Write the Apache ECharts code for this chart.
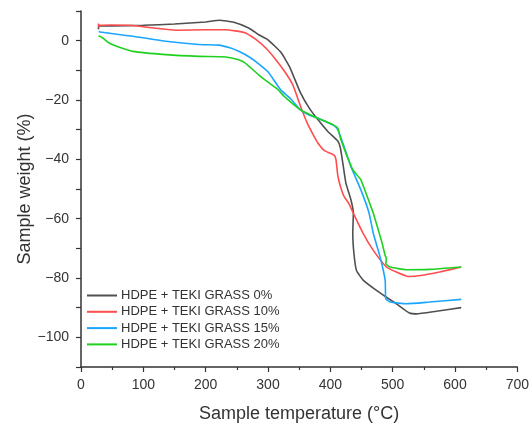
<!DOCTYPE html>
<html>
<head>
<meta charset="utf-8">
<title>TGA curves</title>
<script src="https://cdn.jsdelivr.net/npm/echarts@6/dist/echarts.min.js"></script>
<style>
  html, body { margin: 0; padding: 0; background: #fff; }
  #main { width: 532px; height: 428px; }
</style>
</head>
<body>
<div id="main"></div>
<script type="text/javascript">
// legend names
var names = ['HDPE + TEKI GRASS 0%', 'HDPE + TEKI GRASS 10%', 'HDPE + TEKI GRASS 15%', 'HDPE + TEKI GRASS 20%'];

// [temperature (°C), weight change (%)]
var grass0 = [[28,3.8],[29,5.0],[50,5.0],[100,5.2],[150,5.6],[200,6.3],[222,6.9],[245,6.2],[269,4.3],[285,2.0],
  [300,0.3],[321,-4.0],[335,-9.0],[352,-17.5],[367,-23.0],[380,-26.6],[396,-30.6],[412,-33.8],[416,-36],[420,-41.2],
  [425,-48],[433,-53.6],[437,-58],[436,-65],[438,-72],[442,-77.5],[453,-80.8],[474,-84.2],[490,-86.5],[506,-88.7],
  [527,-91.8],[538,-92.1],[570,-91.2],[610,-90]];
var grass10 = [[28,5.8],[28,4.6],[30,5.2],[50,5.3],[83,5.1],[120,4.2],[152,3.5],[200,3.7],[232,3.7],[263,2.7],
  [280,0.5],[296,-2.4],[311,-6],[327,-10.5],[340,-15],[352,-22],[363,-27.8],[372,-31.5],[380,-34.5],[390,-37],
  [396,-37.6],[406,-38.6],[409,-40],[412,-45.5],[416,-49],[422,-52.5],[430,-55],[437,-58.2],[453,-65.1],[469,-70.7],
  [490,-76.3],[506,-78],[525,-79.5],[548,-79.1],[575,-78],[610,-76.3]];
var grass15 = [[29,3.2],[30,2.9],[83,1.5],[136,-0.2],[189,-1.3],[221,-1.5],[240,-2.5],[253,-3.6],[270,-5.5],[285,-7.8],
  [300,-10.5],[320,-16.5],[336,-19.5],[352,-23.3],[365,-25],[379,-26.1],[395,-27.5],[407,-28.8],[412,-30],[420,-34.5],
  [433,-42.4],[449,-50.3],[462,-58],[469,-65],[480,-73],[488,-80.8],[489,-87],[496,-88.1],[522,-88.7],[559,-88.1],
  [610,-87.2]];
var grass20 = [[28,1.6],[30,1.5],[35,0.9],[45,-0.8],[57,-1.9],[83,-3.6],[136,-4.7],[189,-5.3],[232,-5.5],[253,-6.4],
  [263,-7.5],[285,-11.5],[300,-14],[316,-16.5],[326,-18.8],[352,-23.3],[379,-26.1],[404,-28.3],[412,-29.5],[417,-33.4],
  [436,-43.5],[449,-46.9],[465,-55.9],[469,-58.2],[482,-67.4],[488,-72.4],[490,-73.5],[489,-75.2],[496,-76.3],
  [522,-77.2],[559,-77.1],[610,-76.3]];

var colors = ['#505050', '#ff4d4d', '#1aa6ff', '#1fd11f'];
var font = 'Liberation Sans, Arial, sans-serif';

function minus(v) {
  return String(v).replace('-', '\u2212');
}

var myChart = echarts.init(document.getElementById('main'), null, { renderer: 'canvas' });

var option = {
  animation: false,
  backgroundColor: '#fff',
  color: colors,
  grid: { left: 81, right: 11, top: 11, bottom: 61 },
  legend: {
    orient: 'vertical',
    left: 82,
    top: 284,
    itemWidth: 30,
    itemHeight: 13,
    itemGap: 3.3,
    icon: 'path://M0,5.5 L30,5.5 L30,7.5 L0,7.5 Z',
    textStyle: { fontFamily: font, fontSize: 13, color: '#333', padding: [0, 0, 0, -1] },
    data: names
  },
  xAxis: {
    type: 'value',
    min: 0,
    max: 700,
    interval: 100,
    name: 'Sample temperature (°C)',
    nameLocation: 'middle',
    nameGap: 38,
    nameTextStyle: { fontFamily: font, fontSize: 18, color: '#333' },
    axisLine: { show: true, onZero: false, lineStyle: { color: '#333', width: 1.5 } },
    axisTick: { show: true, length: 5, lineStyle: { color: '#333', width: 1.2 } },
    minorTick: { show: true, splitNumber: 2, length: 3, lineStyle: { color: '#333', width: 1.2 } },
    axisLabel: { fontFamily: font, fontSize: 14, color: '#333', margin: 11 },
    splitLine: { show: false }
  },
  yAxis: {
    type: 'value',
    min: -110,
    max: 10,
    interval: 10,
    name: 'Sample weight (%)',
    nameLocation: 'middle',
    nameGap: 47,
    nameMoveOverlap: false,
    nameTextStyle: { fontFamily: font, fontSize: 18, color: '#333' },
    axisLine: { show: true, onZero: false, lineStyle: { color: '#333', width: 1.5 } },
    axisTick: { show: true, length: 5, lineStyle: { color: '#333', width: 1.2 } },
    axisLabel: {
      fontFamily: font, fontSize: 14, color: '#333', margin: 12,
      formatter: function (v) { return v % 20 === 0 ? minus(v) : ''; }
    },
    splitLine: { show: false }
  },
  series: [
    { name: names[0], type: 'line', data: grass0, showSymbol: false, smooth: 0.15, lineStyle: { width: 1.6 } },
    { name: names[1], type: 'line', data: grass10, showSymbol: false, smooth: 0.15, lineStyle: { width: 1.6 } },
    { name: names[2], type: 'line', data: grass15, showSymbol: false, smooth: 0.15, lineStyle: { width: 1.6 } },
    { name: names[3], type: 'line', data: grass20, showSymbol: false, smooth: 0.15, lineStyle: { width: 1.6 } }
  ]
};

myChart.setOption(option);
</script>
</body>
</html>
